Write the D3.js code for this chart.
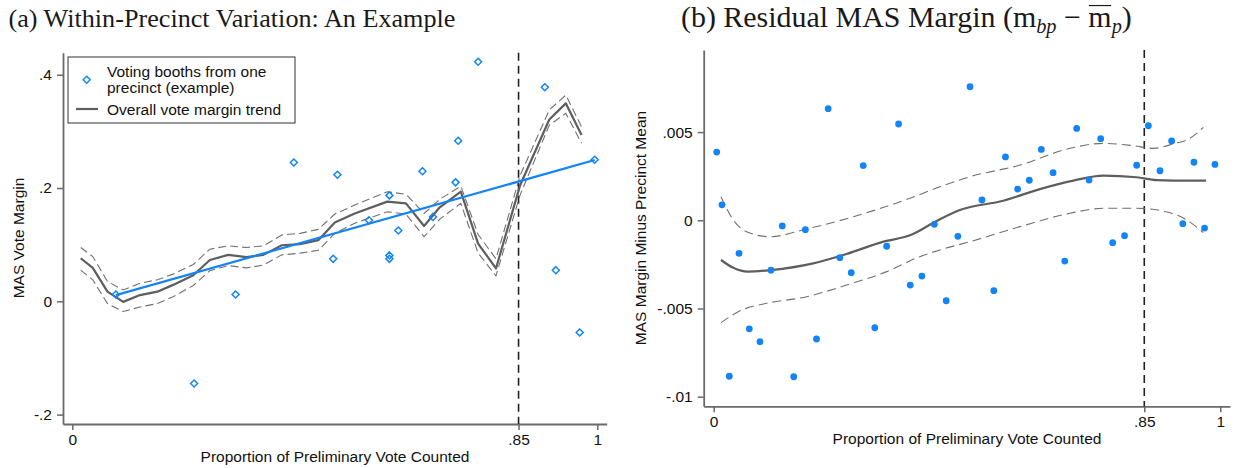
<!DOCTYPE html>
<html><head><meta charset="utf-8">
<script src="https://cdn.jsdelivr.net/npm/d3@7"></script>
<style>body{margin:0;background:#fff} svg{display:block}</style>
</head><body><svg id="c" width="1241" height="468"></svg>
<script>
// ---------- Panel (a) data ----------
const boothX = [0.083, 0.232, 0.311, 0.422, 0.497, 0.505, 0.565, 0.604, 0.604, 0.604, 0.621, 0.667, 0.687, 0.730, 0.735, 0.773, 0.900, 0.921, 0.9665, 0.995];
const boothY = [0.012, -0.145, 0.012, 0.245, 0.075, 0.2235, 0.143, 0.081, 0.075, 0.187, 0.125, 0.2295, 0.149, 0.210, 0.2835, 0.423, 0.378, 0.055, -0.055, 0.250];
const fitX = [0.083, 0.995];
const fitY = [0.011, 0.2494];
const trendX = [0.016, 0.039, 0.067, 0.097, 0.129, 0.162, 0.192, 0.2305, 0.262, 0.297, 0.332, 0.364, 0.399, 0.434, 0.4686, 0.500, 0.538, 0.600, 0.6356, 0.670, 0.700, 0.740, 0.773, 0.807, 0.853, 0.9086, 0.940, 0.970];
const trendY = [0.076, 0.059, 0.017, -0.001, 0.011, 0.017, 0.029, 0.046, 0.073, 0.082, 0.078, 0.082, 0.099, 0.101, 0.108, 0.139, 0.155, 0.176, 0.173, 0.133, 0.166, 0.1935, 0.102, 0.058, 0.205, 0.321, 0.3495, 0.2935];
const trendUpper = [0.095, 0.079, 0.035, 0.020, 0.032, 0.038, 0.048, 0.065, 0.092, 0.098, 0.095, 0.098, 0.117, 0.120, 0.127, 0.154, 0.170, 0.1935, 0.189, 0.155, 0.180, 0.2035, 0.118, 0.075, 0.222, 0.338, 0.364, 0.308];
const trendLower = [0.055, 0.038, -0.004, -0.018, -0.010, -0.004, 0.008, 0.028, 0.054, 0.063, 0.059, 0.064, 0.082, 0.085, 0.090, 0.120, 0.138, 0.158, 0.154, 0.114, 0.145, 0.173, 0.085, 0.045, 0.188, 0.311, 0.332, 0.279];
const aYTicks = [-0.2, 0, 0.2, 0.4];
const aYTickLabels = ["-.2", "0", ".2", ".4"];
const xTicks = [0, 0.85, 1];
const xTickLabels = ["0", ".85", "1"];
const cutoff = 0.85;

// ---------- Panel (b) data ----------
const resX = [0.006, 0.0164, 0.0308, 0.050, 0.0703, 0.0914, 0.1131, 0.1354, 0.158, 0.181, 0.203, 0.226, 0.249, 0.2716, 0.2953, 0.318, 0.3415, 0.365, 0.388, 0.411, 0.4355, 0.459, 0.482, 0.506, 0.5296, 0.553, 0.576, 0.600, 0.623, 0.6467, 0.670, 0.693, 0.7166, 0.741, 0.764, 0.7876, 0.811, 0.835, 0.858, 0.881, 0.904, 0.926, 0.948, 0.969, 0.9895];
const resY = [0.00387, 0.00088, -0.00884, -0.00187, -0.00615, -0.00688, -0.00283, -0.00032, -0.00887, -0.00053, -0.00673, 0.00633, -0.00212, -0.00297, 0.0031, -0.00609, -0.00147, 0.00546, -0.00367, -0.00316, -0.00023, -0.00456, -0.00091, 0.00757, 0.00115, -0.00399, 0.00359, 0.00177, 0.00227, 0.00402, 0.0027, -0.00231, 0.00521, 0.00228, 0.00463, -0.00127, -0.00087, 0.00312, 0.00536, 0.00281, 0.0045, -0.00019, 0.00329, -0.00044, 0.00317];
const smoothX = [0.0144, 0.0387, 0.067, 0.113, 0.1966, 0.2625, 0.335, 0.3875, 0.440, 0.486, 0.5717, 0.644, 0.710, 0.769, 0.835, 0.8745, 0.940, 0.972];
const smoothY = [-0.00225, -0.00269, -0.00291, -0.00282, -0.00244, -0.00191, -0.00121, -0.00085, -0.00004, 0.00058, 0.00111, 0.00177, 0.00225, 0.00253, 0.00244, 0.00228, 0.00225, 0.00225];
const upperX = [0.0144, 0.0387, 0.065, 0.111, 0.1836, 0.2756, 0.3875, 0.4467, 0.506, 0.6046, 0.7033, 0.769, 0.828, 0.8677, 0.907, 0.940, 0.9665];
const upperY = [0.00134, 0.00002, -0.00065, -0.00093, -0.00049, 0.0002, 0.00125, 0.0019, 0.00247, 0.00313, 0.00408, 0.00436, 0.00423, 0.00408, 0.00433, 0.00465, 0.00527];
const lowerX = [0.0144, 0.0585, 0.098, 0.1836, 0.2625, 0.3415, 0.407, 0.4467, 0.506, 0.6046, 0.7033, 0.769, 0.835, 0.9007, 0.9337, 0.9665];
const lowerY = [-0.0058, -0.00505, -0.00474, -0.00433, -0.00367, -0.00291, -0.00206, -0.00168, -0.00121, -0.00036, 0.0004, 0.00068, 0.00068, 0.00043, 0.00002, -0.0007];
const bYTicks = [-0.01, -0.005, 0, 0.005];
const bYTickLabels = ["-.01", "-.005", "0", ".005"];

// ---------- styling ----------
const SANS = '"Liberation Sans", Arial, sans-serif';
const SERIF = '"Liberation Serif", "Times New Roman", serif';
const BLUE = "#1384f6";
const GRAY = "#5e5e5e";
const AXIS = "#6a6a6a";
const FS = 15.5;

const svg = d3.select("#c");
svg.append("rect").attr("width", 1241).attr("height", 468).attr("fill", "#fff");

function styleAxis(g) {
  g.attr("font-family", SANS).attr("font-size", FS);
  g.select(".domain").attr("stroke", AXIS).attr("stroke-width", 1.8);
  g.selectAll(".tick line").attr("stroke", AXIS).attr("stroke-width", 1.5);
  g.selectAll(".tick text").attr("fill", "#111");
}
const zip = (xs, ys) => xs.map((x, i) => [x, ys[i]]);

// ================= Panel (a) =================
const xA = d3.scaleLinear().domain([-0.0177, 1.0179]).range([63, 606.7]);
const yA = d3.scaleLinear().domain([-0.2166, 0.4389]).range([424, 52.7]);

svg.append("g").attr("transform", "translate(63,0)")
  .call(d3.axisLeft(yA).tickValues(aYTicks).tickFormat((d, i) => aYTickLabels[i]).tickSize(6).tickSizeOuter(0).tickPadding(5))
  .call(styleAxis);
svg.append("g").attr("transform", "translate(0,424)")
  .call(d3.axisBottom(xA).tickValues(xTicks).tickFormat((d, i) => xTickLabels[i]).tickSize(6).tickSizeOuter(0).tickPadding(4))
  .call(styleAxis);

svg.append("line")
  .attr("x1", xA(cutoff)).attr("x2", xA(cutoff))
  .attr("y1", yA.range()[1]).attr("y2", yA.range()[0])
  .attr("stroke", "#222").attr("stroke-width", 1.6).attr("stroke-dasharray", "8,5");

const lineA = d3.line().x(d => xA(d[0])).y(d => yA(d[1]));
[trendUpper, trendLower].forEach(arr => {
  svg.append("path").datum(zip(trendX, arr)).attr("d", lineA)
    .attr("fill", "none").attr("stroke", "#707070").attr("stroke-width", 1.1).attr("stroke-dasharray", "8,4");
});
svg.append("path").datum(zip(trendX, trendY)).attr("d", lineA)
  .attr("fill", "none").attr("stroke", GRAY).attr("stroke-width", 2.2).attr("stroke-linejoin", "round");
svg.append("path").datum(zip(fitX, fitY)).attr("d", lineA)
  .attr("fill", "none").attr("stroke", BLUE).attr("stroke-width", 2.2);

const diamond = (cx, cy, r) => `M${cx},${cy - r}L${cx + r},${cy}L${cx},${cy + r}L${cx - r},${cy}Z`;
svg.append("g").selectAll("path").data(zip(boothX, boothY)).join("path")
  .attr("d", d => diamond(xA(d[0]), yA(d[1]), 3.5))
  .attr("fill", "none").attr("stroke", BLUE).attr("stroke-width", 1.5);

// legend
const lg = svg.append("g");
lg.append("rect").attr("x", 68).attr("y", 57).attr("width", 227).attr("height", 66)
  .attr("fill", "#fff").attr("stroke", "#333").attr("stroke-width", 1);
lg.append("path").attr("d", diamond(86.7, 79.7, 3.5)).attr("fill", "none").attr("stroke", BLUE).attr("stroke-width", 1.5);
lg.append("line").attr("x1", 76).attr("x2", 98).attr("y1", 109).attr("y2", 109).attr("stroke", GRAY).attr("stroke-width", 2.2);
const lgText = [["Voting booths from one", 76.5], ["precinct (example)", 92.5], ["Overall vote margin trend", 114.5]];
lg.selectAll("text").data(lgText).join("text")
  .attr("x", 107).attr("y", d => d[1]).text(d => d[0])
  .attr("font-family", SANS).attr("font-size", FS).attr("fill", "#111");

// axis titles
svg.append("text").attr("transform", "translate(24,238) rotate(-90)").attr("text-anchor", "middle")
  .attr("font-family", SANS).attr("font-size", FS).attr("fill", "#111").text("MAS Vote Margin");
svg.append("text").attr("x", 335).attr("y", 461.5).attr("text-anchor", "middle")
  .attr("font-family", SANS).attr("font-size", FS).attr("fill", "#111").text("Proportion of Preliminary Vote Counted");

// ================= Panel (b) =================
const xB = d3.scaleLinear().domain([-0.0197, 1.0192]).range([703.7, 1230]);
const yB = d3.scaleLinear().domain([-0.010544, 0.009654]).range([406.3, 50]);

svg.append("g").attr("transform", "translate(703.7,0)")
  .call(d3.axisLeft(yB).tickValues(bYTicks).tickFormat((d, i) => bYTickLabels[i]).tickSize(6).tickSizeOuter(0).tickPadding(5))
  .call(styleAxis);
svg.append("g").attr("transform", "translate(0,406.3)")
  .call(d3.axisBottom(xB).tickValues(xTicks).tickFormat((d, i) => xTickLabels[i]).tickSize(6).tickSizeOuter(0).tickPadding(4))
  .call(styleAxis);

svg.append("line")
  .attr("x1", xB(cutoff)).attr("x2", xB(cutoff))
  .attr("y1", yB.range()[1]).attr("y2", yB.range()[0])
  .attr("stroke", "#222").attr("stroke-width", 1.6).attr("stroke-dasharray", "8,5");

const lineB = d3.line().x(d => xB(d[0])).y(d => yB(d[1])).curve(d3.curveMonotoneX);
svg.append("path").datum(zip(upperX, upperY)).attr("d", lineB)
  .attr("fill", "none").attr("stroke", "#707070").attr("stroke-width", 1.1).attr("stroke-dasharray", "9,5");
svg.append("path").datum(zip(lowerX, lowerY)).attr("d", lineB)
  .attr("fill", "none").attr("stroke", "#707070").attr("stroke-width", 1.1).attr("stroke-dasharray", "9,5");
svg.append("path").datum(zip(smoothX, smoothY)).attr("d", lineB)
  .attr("fill", "none").attr("stroke", GRAY).attr("stroke-width", 2.2);

svg.append("g").selectAll("circle").data(zip(resX, resY)).join("circle")
  .attr("cx", d => xB(d[0])).attr("cy", d => yB(d[1])).attr("r", 3.4)
  .attr("fill", BLUE);

svg.append("text").attr("transform", "translate(646,228) rotate(-90)").attr("text-anchor", "middle")
  .attr("font-family", SANS).attr("font-size", FS).attr("fill", "#111").text("MAS Margin Minus Precinct Mean");
svg.append("text").attr("x", 967).attr("y", 443.5).attr("text-anchor", "middle")
  .attr("font-family", SANS).attr("font-size", FS).attr("fill", "#111").text("Proportion of Preliminary Vote Counted");

// ================= Titles =================
function fitTitle(sel, left, width) {
  let bb = sel.node().getBBox();
  const fs = +sel.attr("font-size");
  sel.attr("font-size", fs * width / bb.width);
  bb = sel.node().getBBox();
  sel.attr("x", +sel.attr("x") + (left - bb.x));
}
const tA = svg.append("text").attr("x", 8).attr("y", 26.5).attr("font-family", SERIF).attr("font-size", 26)
  .attr("fill", "#1a1a1a").text("(a) Within-Precinct Variation: An Example");
fitTitle(tA, 8.5, 447);

const TB_Y = 26.5;
const tB = svg.append("text").attr("x", 680).attr("y", TB_Y).attr("font-family", SERIF).attr("font-size", 26).attr("fill", "#1a1a1a");
tB.append("tspan").text("(b) Residual MAS Margin (m");
tB.append("tspan").attr("font-style", "italic").style("font-size", "68%").attr("dy", "0.3em").text("bp");
tB.append("tspan").attr("dy", "-0.204em").text(" \u2212 ");
const mBar = tB.append("tspan").text("m");
tB.append("tspan").attr("font-style", "italic").style("font-size", "68%").attr("dy", "0.3em").text("p");
tB.append("tspan").attr("dy", "-0.204em").text(")");
fitTitle(tB, 681, 451);
// overline above the second "m" (mean marker)
{
  const idx = "(b) Residual MAS Margin (mbp \u2212 ".length;
  const ext = tB.node().getExtentOfChar(idx);
  const fsB = +tB.attr("font-size");
  const yBar = TB_Y - 0.7 * fsB;
  svg.append("line").attr("x1", ext.x + 0.5).attr("x2", ext.x + ext.width - 0.5)
    .attr("y1", yBar).attr("y2", yBar).attr("stroke", "#1a1a1a").attr("stroke-width", 1.2);
}
</script>
</body></html>
